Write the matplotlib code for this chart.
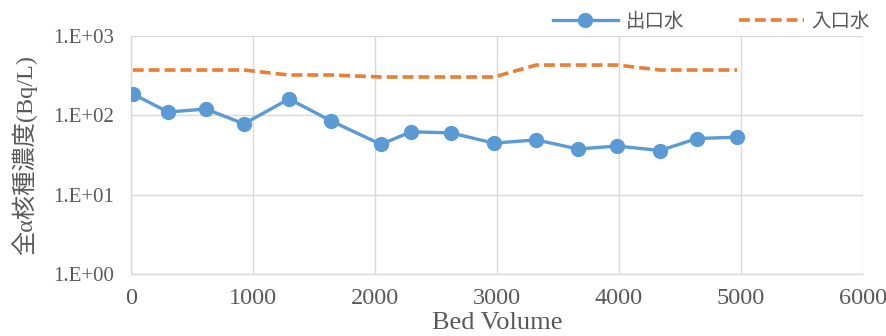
import numpy as np
from matplotlib import pyplot as plt
from matplotlib.ticker import FixedLocator, NullLocator

# bed volume at each sampling
bv = [15, 303, 615, 926, 1295, 1639, 2049, 2295, 2623, 2975, 3320, 3664, 3984, 4336, 4639, 4967]
# gross alpha, outlet water (Bq/L)
outlet = [186, 110, 120, 78, 161, 85, 43, 62, 60, 44.6, 49, 37.6, 41, 36, 51, 53]
# gross alpha, inlet water (Bq/L)
inlet = [372, 372, 372, 372, 322, 322, 304, 304, 304, 304, 430, 430, 430, 372, 372, 372]

y_ticks = [1, 10, 100, 1000]
y_ticklabels = ['1.E+00', '1.E+01', '1.E+02', '1.E+03']
x_ticks = [0, 1000, 2000, 3000, 4000, 5000, 6000]

serif = ['Liberation Serif', 'DejaVu Serif']
cjk = ['Noto Sans CJK JP', 'DejaVu Sans']
mixed = ['Liberation Serif', 'Noto Sans CJK JP', 'DejaVu Sans']
grey = '#595959'

fig = plt.figure(figsize=(8.87, 3.36), dpi=100)
ax = fig.add_axes([0.1477, 0.1845, 0.8253, 0.7085])

ax.plot(bv, outlet, color='#5B9BD5', lw=2.4, marker='o', ms=10, label='出口水', zorder=3)
ax.plot(bv, inlet, color='#ED7D31', lw=2.6, ls=(0, (3, 1.4)), label='入口水', zorder=2)

ax.set_yscale('log')
ax.set_ylim(1, 1000)
ax.set_xlim(0, 6000)
ax.yaxis.set_major_locator(FixedLocator(y_ticks))
ax.yaxis.set_minor_locator(NullLocator())
ax.set_yticks(y_ticks)
ax.set_yticklabels(y_ticklabels)
ax.set_xticks(x_ticks)

ax.grid(True, color='#D9D9D9', lw=1)
ax.set_axisbelow(True)
for s in ['top', 'right']:
    ax.spines[s].set_visible(False)
for s in ['left', 'bottom']:
    ax.spines[s].set_color('#D9D9D9')
    ax.spines[s].set_linewidth(1)
ax.tick_params(axis='y', length=0, pad=12, labelcolor=grey, labelsize=15)
ax.tick_params(axis='x', length=0, pad=10, labelcolor=grey, labelsize=17.5)
for lab in ax.get_xticklabels() + ax.get_yticklabels():
    lab.set_family(serif)

ax.set_xlabel('Bed Volume', family=serif, fontsize=19, color=grey, labelpad=2)
ax.set_ylabel('全α核種濃度(Bq/L)', family=mixed, fontsize=17.5, color=grey)
ax.yaxis.set_label_coords(-0.128, 0.5)

leg = fig.legend(loc='center right', bbox_to_anchor=(870 / 887, 1 - 21 / 336), ncol=2,
                 frameon=False, prop={'family': cjk, 'size': 14}, handlelength=3.35,
                 columnspacing=2.8, handletextpad=0.4, borderpad=0, borderaxespad=0)
for t in leg.get_texts():
    t.set_color(grey)

fig.savefig('out.png', dpi=100)
